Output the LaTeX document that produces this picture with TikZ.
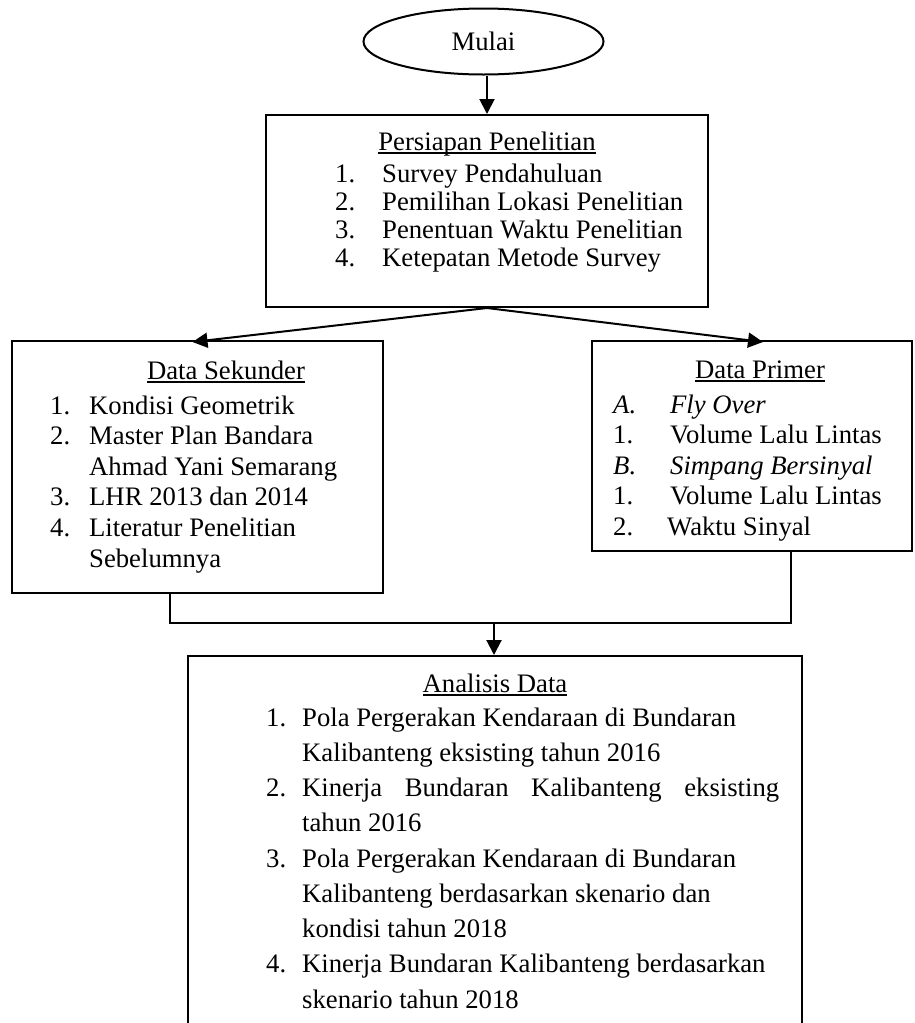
\documentclass[tikz,border=0pt]{standalone}
\usepackage{fontspec}
\setmainfont{Liberation Serif}
\usetikzlibrary{shapes.geometric,arrows.meta}
\newcommand\myul[1]{\setbox0\hbox{#1}\rlap{\rule[-3.6pt]{\wd0}{1.3pt}}\box0}
\begin{document}
\begin{tikzpicture}[x=1pt,y=-1pt,
  box/.style={draw, line width=2pt, inner sep=0pt},
  arr/.style={line width=2pt, -{Triangle[length=15pt,width=15pt]}},
  conn/.style={line width=2pt},
  txt/.style={inner sep=0pt, font=\fontsize{26.7}{30}\selectfont},
]
\useasboundingbox (0,0) rectangle (915,1023);
% shapes
\node[box, ellipse, minimum width=240pt, minimum height=66pt, font=\fontsize{26.7}{30}\selectfont] (start) at (483.5,41.5) {Mulai};
\node[box, minimum width=442pt, minimum height=192pt] (prep) at (487,211) {};
\node[box, minimum width=371pt, minimum height=252pt] (sek) at (197.5,467) {};
\node[box, minimum width=320pt, minimum height=210pt] (prim) at (752,446) {};
\node[box, minimum width=614pt, minimum height=400pt] (ana) at (495,856) {};
% titles
\node[txt, anchor=base] (prept) at (487,150) {\myul{Persiapan Penelitian}};
\node[txt, anchor=base] (sekt) at (226,379) {\myul{Data Sekunder}};
\node[txt, anchor=base] (primt) at (760,378) {\myul{Data Primer}};
\node[txt, anchor=base] (anat) at (495,692) {\myul{Analisis Data}};
% lists
\node[txt, anchor=base west, font=\fontsize{26.7}{28.3}\selectfont] (prepl) at (335,182) {\begin{tabular}[t]{@{}p{47pt}@{}l@{}}
1.&Survey Pendahuluan\\
2.&Pemilihan Lokasi Penelitian\\
3.&Penentuan Waktu Penelitian\\
4.&Ketepatan Metode Survey
\end{tabular}};
\node[txt, anchor=base west, font=\fontsize{26.7}{30.6}\selectfont] (sekl) at (50,414) {\begin{tabular}[t]{@{}p{39pt}@{}l@{}}
1.&Kondisi Geometrik\\
2.&Master Plan Bandara\\
&Ahmad Yani Semarang\\
3.&LHR 2013 dan 2014\\
4.&Literatur Penelitian\\
&Sebelumnya
\end{tabular}};
\node[txt, anchor=base west, font=\fontsize{26.7}{30.5}\selectfont] (priml) at (613,413) {\begin{tabular}[t]{@{}p{57pt}@{}l@{}}
\textit{A.}&\textit{Fly Over}\\
1.&Volume Lalu Lintas\\
\textit{B.}&\textit{Simpang Bersinyal}\\
1.&Volume Lalu Lintas\\
2.&\hspace{-3pt}Waktu Sinyal
\end{tabular}};
\node[txt, anchor=base west, font=\fontsize{26.7}{35.25}\selectfont] (anal) at (266,726) {\begin{tabular}[t]{@{}p{36pt}@{}l@{}}
1.&Pola Pergerakan Kendaraan di Bundaran\\
&Kalibanteng eksisting tahun 2016\\
2.&\makebox[477pt][s]{Kinerja Bundaran Kalibanteng eksisting}\\
&tahun 2016\\
3.&Pola Pergerakan Kendaraan di Bundaran\\
&Kalibanteng berdasarkan skenario dan\\
&kondisi tahun 2018\\
4.&Kinerja Bundaran Kalibanteng berdasarkan\\
&skenario tahun 2018
\end{tabular}};
% connectors
\draw[arr] (start.south -| prep.north) -- (prep.north);
\draw[arr] (prep.south) -- ([xshift=-5pt,yshift=-2pt]sek.north);
\draw[arr] (prep.south) -- ([xshift=11pt,yshift=-2pt]prim.north);
\coordinate (jl) at (170,623);
\coordinate (jr) at (791,623);
\coordinate (jm) at (494,623);
\draw[conn] (jl |- sek.south) -- (jl) -- (jr) -- (jr |- prim.south);
\draw[arr] (jm) -- (jm |- ana.north);
\end{tikzpicture}
\end{document}
